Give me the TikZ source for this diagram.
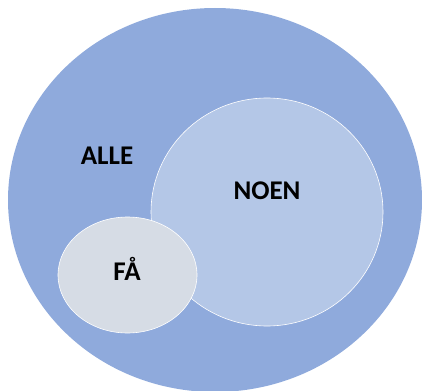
\documentclass[tikz,border=0pt]{standalone}
\usepackage{fontspec}
\setmainfont{Carlito}
\usepackage{tikz}
\usetikzlibrary{shapes.geometric}
\definecolor{alleblue}{HTML}{8FAADC}
\definecolor{noenblue}{HTML}{B4C7E7}
\definecolor{fagrey}{HTML}{D6DCE5}
\tikzset{
   set/.style={ellipse, inner sep=0pt, outer sep=0pt},
   setlabel/.style={font=\fontsize{27}{30}\selectfont\bfseries, text=black}
}
\begin{document}
\begin{tikzpicture}[x=1pt,y=-1pt]

\useasboundingbox (0,0) rectangle (422,390);
\clip (0,0) rectangle (422,390);

% the three sets
\node[set, fill=alleblue, minimum width=414pt, minimum height=384pt] (alle) at (215,200) {};
\node[set, fill=noenblue, draw=white, line width=0.6pt, minimum width=232pt, minimum height=228pt] (noen) at (267,212) {};
\node[set, fill=fagrey, draw=white, line width=0.6pt, minimum width=139pt, minimum height=116pt] (fa) at (127.5,275) {};

% labels
\node[setlabel] (allelabel) at (107,156) {ALLE};
\node[setlabel] (noenlabel) at (267,191) {NOEN};
\node[setlabel] (falabel) at (127,269) {FÅ};

\end{tikzpicture}
\end{document}
